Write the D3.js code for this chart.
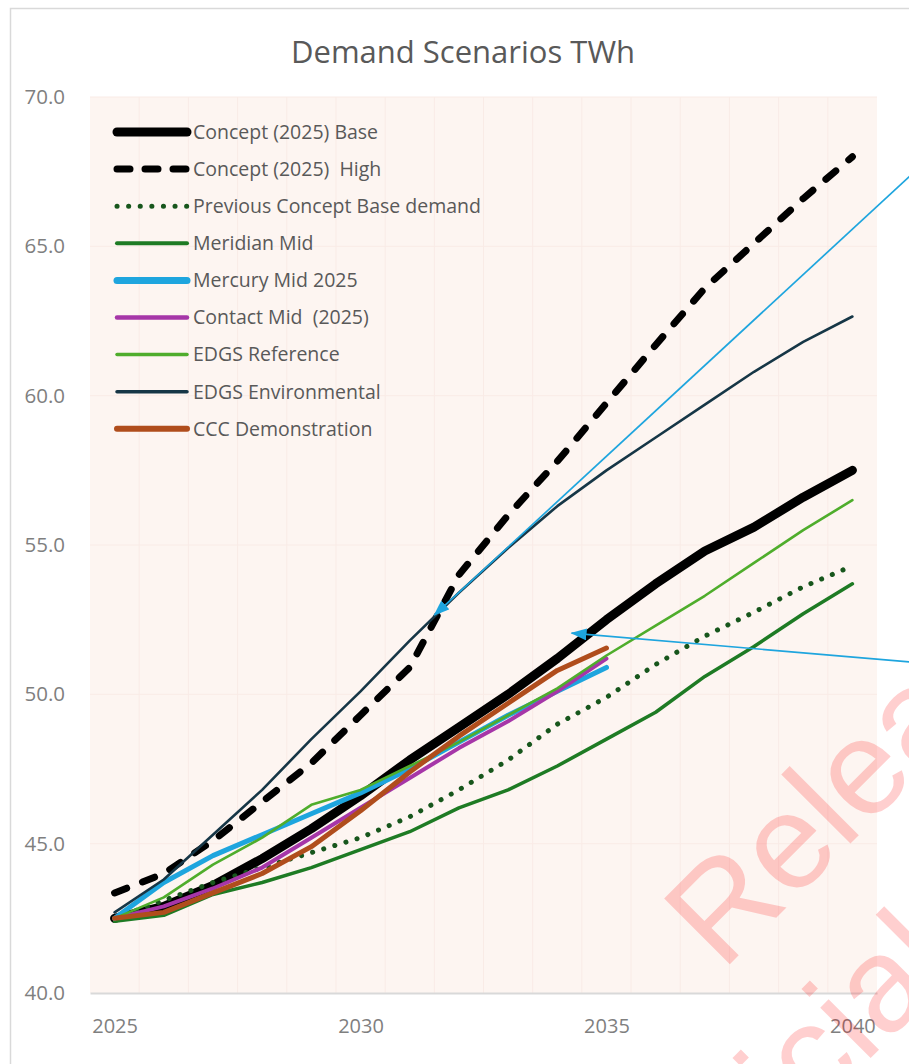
<!DOCTYPE html>
<html>
<head>
<meta charset="utf-8">
<script src="https://cdn.jsdelivr.net/npm/d3@7"></script>
<style>
  html, body { margin: 0; padding: 0; background: #ffffff; }
  svg { display: block; }
  .keep-spaces { white-space: pre; }
</style>
</head>
<body>
<svg id="chart" width="909" height="1064"></svg>
<script>
// ---- data -------------------------------------------------------------
const years = d3.range(2025, 2041);
const yTicks = [40, 45, 50, 55, 60, 65, 70];
const xTicks = [2025, 2030, 2035, 2040];

const conceptBase   = [42.5, 42.9, 43.6, 44.5, 45.5, 46.6, 47.8, 48.9, 50.0, 51.2, 52.5, 53.7, 54.8, 55.6, 56.6, 57.5];
const conceptHigh   = [43.35, 44.0, 45.1, 46.4, 47.7, 49.3, 50.9, 54.0, 56.0, 57.8, 59.75, 61.7, 63.6, 65.1, 66.6, 68.0];
const previousBase  = [42.5, 43.1, 43.7, 44.2, 44.7, 45.2, 45.9, 46.8, 47.8, 49.0, 49.9, 51.0, 51.95, 52.75, 53.6, 54.3];
const meridianMid   = [42.4, 42.6, 43.3, 43.7, 44.2, 44.8, 45.4, 46.2, 46.8, 47.6, 48.5, 49.4, 50.6, 51.6, 52.7, 53.7];
const mercuryMid    = [42.5, 43.7, 44.6, 45.3, 46.0, 46.7, 47.5, 48.4, 49.3, 50.1, 50.9];
const contactMid    = [42.5, 42.9, 43.5, 44.2, 45.2, 46.2, 47.2, 48.2, 49.1, 50.1, 51.2];
const edgsReference = [42.5, 43.2, 44.3, 45.2, 46.3, 46.8, 47.6, 48.4, 49.3, 50.2, 51.3, 52.3, 53.3, 54.4, 55.5, 56.5];
const edgsEnvironmental = [42.7, 43.8, 45.3, 46.8, 48.5, 50.1, 51.8, 53.4, 54.9, 56.3, 57.5, 58.6, 59.7, 60.8, 61.8, 62.65];
const cccDemonstration  = [42.5, 42.7, 43.35, 44.0, 44.9, 46.1, 47.4, 48.6, 49.7, 50.8, 51.55];

const seriesNames = [
  "Concept (2025) Base",
  "Concept (2025)  High",
  "Previous Concept Base demand",
  "Meridian Mid",
  "Mercury Mid 2025",
  "Contact Mid  (2025)",
  "EDGS Reference",
  "EDGS Environmental",
  "CCC Demonstration"
];
const seriesValues = [conceptBase, conceptHigh, previousBase, meridianMid, mercuryMid,
                      contactMid, edgsReference, edgsEnvironmental, cccDemonstration];

// callout arrows: [year, TWh] of tail (off to the right) and head
const arrowTails = [[2041.2, 67.4], [2041.2, 51.08]];
const arrowHeads = [[2031.5, 52.65], [2034.29, 52.05]];

// ---- styles -----------------------------------------------------------
const styles = [
  { color: "#000000", width: 9,   dash: null,       legendDash: null,       legendWidth: 9 },
  { color: "#000000", width: 7,   dash: "13,17",    legendDash: "13,15",    legendWidth: 7 },
  { color: "#17561c", width: 5,   dash: "0.1,11.5", legendDash: "0.1,11.5", legendWidth: 5 },
  { color: "#1e7b24", width: 3.5, dash: null,       legendDash: null,       legendWidth: 4 },
  { color: "#1ea5de", width: 5,   dash: null,       legendDash: null,       legendWidth: 7 },
  { color: "#a636a8", width: 4,   dash: null,       legendDash: null,       legendWidth: 4.5 },
  { color: "#4fad2c", width: 2.6, dash: null,       legendDash: null,       legendWidth: 3.5 },
  { color: "#163646", width: 2.6, dash: null,       legendDash: null,       legendWidth: 3.5 },
  { color: "#b04d1c", width: 5,   dash: null,       legendDash: null,       legendWidth: 6 }
];

// ---- layout -----------------------------------------------------------
const svg = d3.select("#chart");
const plot = { left: 90, right: 877, top: 97, bottom: 993 };

const x = d3.scaleLinear().domain([2024.5, 2040.5]).range([plot.left, plot.right]);
const y = d3.scaleLinear().domain([40, 70]).range([plot.bottom, plot.top]);

// outer chart frame
svg.append("rect")
  .attr("x", 10.5).attr("y", 8.5)
  .attr("width", 1000).attr("height", 1100)
  .attr("fill", "#ffffff")
  .attr("stroke", "#d9d9d9").attr("stroke-width", 1.5);

// title
svg.append("text")
  .attr("x", 463).attr("y", 63)
  .attr("text-anchor", "middle")
  .attr("font-family", "'Open Sans', sans-serif")
  .attr("font-size", 31)
  .attr("fill", "#595959")
  .text("Demand Scenarios TWh");

// plot background
svg.append("rect")
  .attr("x", plot.left).attr("y", plot.top)
  .attr("width", plot.right - plot.left).attr("height", plot.bottom - plot.top)
  .attr("fill", "#fdf5f1");

// faint gridlines: category boundaries and value ticks
const grid = svg.append("g").attr("stroke", "#f9ebe6").attr("stroke-width", 1);
grid.selectAll("line.v").data(years.slice(0, -1)).join("line")
  .attr("x1", d => x(d + 0.5)).attr("x2", d => x(d + 0.5))
  .attr("y1", plot.top).attr("y2", plot.bottom);
grid.selectAll("line.h").data(yTicks.filter(d => d > 40)).join("line")
  .attr("x1", plot.left).attr("x2", plot.right)
  .attr("y1", d => y(d)).attr("y2", d => y(d));

// axes
const yAxis = svg.append("g")
  .attr("transform", `translate(${plot.left},0)`)
  .call(d3.axisLeft(y).tickValues(yTicks).tickFormat(d3.format(".1f")).tickSize(0).tickPadding(25));
yAxis.select(".domain").remove();
yAxis.selectAll("text")
  .attr("font-family", "'Open Sans', sans-serif")
  .attr("font-size", 20.5)
  .attr("fill", "#7f7f7f");

const xAxis = svg.append("g")
  .attr("transform", `translate(0,${plot.bottom})`)
  .call(d3.axisBottom(x).tickValues(xTicks).tickFormat(d => String(d)).tickSize(0).tickPadding(26));
xAxis.select(".domain").attr("stroke", "#d9d9d9").attr("stroke-width", 2);
xAxis.selectAll("text")
  .attr("font-family", "'Open Sans', sans-serif")
  .attr("font-size", 20)
  .attr("fill", "#7f7f7f");

// series lines
const line = d3.line()
  .x((d, i) => x(years[i]))
  .y(d => y(d));

const lines = svg.append("g").attr("fill", "none")
  .attr("stroke-linecap", "round").attr("stroke-linejoin", "round");
seriesValues.forEach((vals, i) => {
  const s = styles[i];
  lines.append("path")
    .datum(vals)
    .attr("d", line)
    .attr("stroke", s.color)
    .attr("stroke-width", s.width)
    .attr("stroke-dasharray", s.dash);
});

// legend
const legend = svg.append("g");
seriesNames.forEach((name, i) => {
  const s = styles[i];
  const cy = 132 + i * 37.1;
  legend.append("line")
    .attr("x1", 117).attr("x2", 187)
    .attr("y1", cy).attr("y2", cy)
    .attr("stroke", s.color)
    .attr("stroke-width", s.legendWidth)
    .attr("stroke-linecap", "round")
    .attr("stroke-dasharray", s.legendDash);
  legend.append("text")
    .attr("class", "keep-spaces")
    .attr("x", 193).attr("y", cy)
    .attr("dy", "0.35em")
    .attr("font-family", "'Open Sans', sans-serif")
    .attr("font-size", 19.5)
    .attr("fill", "#595959")
    .text(name);
});

// callout arrows
const defs = svg.append("defs");
defs.append("marker")
  .attr("id", "arrowhead")
  .attr("viewBox", "0 0 16 12")
  .attr("refX", 15).attr("refY", 6)
  .attr("markerWidth", 16).attr("markerHeight", 12)
  .attr("markerUnits", "userSpaceOnUse")
  .attr("orient", "auto")
  .append("path")
  .attr("d", "M0,0 L16,6 L0,12 Z")
  .attr("fill", "#1ea5de");

const arrows = svg.append("g");
arrowTails.forEach((tail, i) => {
  const head = arrowHeads[i];
  arrows.append("line")
    .attr("x1", x(tail[0])).attr("y1", y(tail[1]))
    .attr("x2", x(head[0])).attr("y2", y(head[1]))
    .attr("stroke", "#1ea5de")
    .attr("stroke-width", 1.7)
    .attr("marker-end", "url(#arrowhead)");
});

// watermark
const wm = svg.append("g")
  .attr("transform", "translate(722,972) rotate(-45)")
  .attr("font-family", "'Liberation Sans', Arial, sans-serif")
  .attr("font-size", 135)
  .attr("fill", "#ff0000")
  .attr("fill-opacity", 0.19);
wm.append("text").attr("x", 0).attr("y", 0).text("Released under the");
wm.append("text").attr("x", -240).attr("y", 166).text("Official Information Act");
</script>
</body>
</html>
